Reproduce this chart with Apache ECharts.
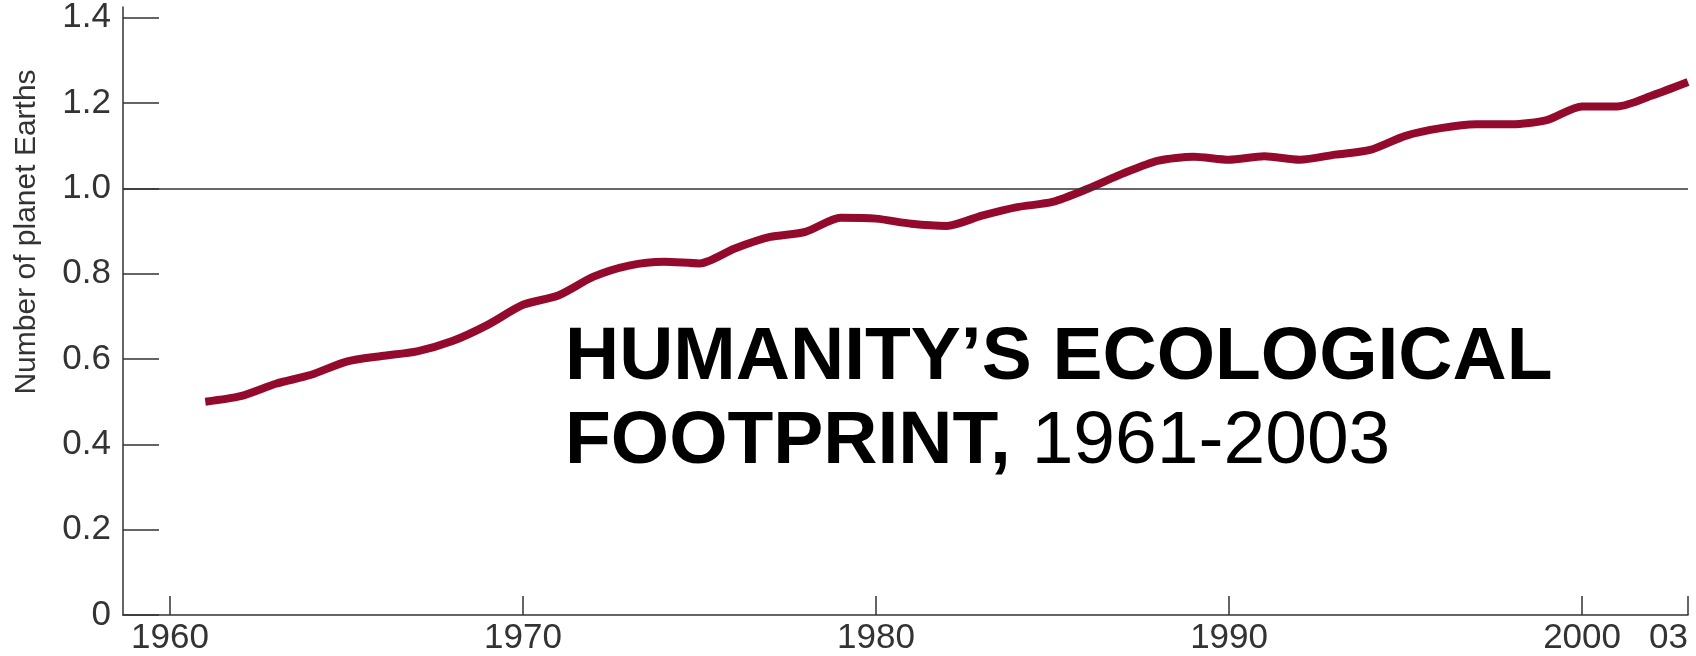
<!DOCTYPE html>
<html>
<head>
<meta charset="utf-8">
<style>
  html, body { margin: 0; padding: 0; background: #fff; }
  #chart { width: 1696px; height: 656px; }
</style>
<script src="https://cdn.jsdelivr.net/npm/echarts@6/dist/echarts.min.js"></script>
</head>
<body>
<div id="chart"></div>
<script>
const years = [];
for (let y = 1961; y <= 2003; y++) years.push(y);

const footprint = [
  0.500, 0.513, 0.542, 0.563, 0.594, 0.607, 0.618, 0.642, 0.680, 0.727,
  0.749, 0.793, 0.819, 0.828, 0.824, 0.859, 0.886, 0.898, 0.931, 0.929,
  0.917, 0.912, 0.936, 0.956, 0.968, 0.999, 1.035, 1.065, 1.074, 1.067,
  1.075, 1.067, 1.079, 1.090, 1.123, 1.141, 1.150, 1.150, 1.160, 1.192,
  1.192, 1.218, 1.249
];

const xTickValues = [1960, 1970, 1980, 1990, 2000, 2003];
const xTickLabels = ['1960', '1970', '1980', '1990', '2000', '03'];
const yTickValues = [0, 0.2, 0.4, 0.6, 0.8, 1.0, 1.2, 1.4];
const yTickLabels = ['0', '0.2', '0.4', '0.6', '0.8', '1.0', '1.2', '1.4'];
const referenceLevel = 1.0;

const yAxisName = 'Number of planet Earths';
const titleBold1 = 'HUMANITY\u2019S ECOLOGICAL';
const titleBold2 = 'FOOTPRINT,';
const titleNormal2 = ' 1961-2003';

const font = '"Liberation Sans", Arial, Helvetica, sans-serif';
const axisColor = '#333';

const chart = echarts.init(document.getElementById('chart'), null, { renderer: 'canvas' });

chart.setOption({
  animation: false,
  backgroundColor: '#ffffff',
  grid: { left: 123, right: 8, top: 7, bottom: 38, containLabel: false },
  xAxis: {
    type: 'value',
    min: 1958.67,
    max: 2003,
    axisLine: { show: true, lineStyle: { color: axisColor, width: 1.5 } },
    axisTick: {
      show: true, inside: true, length: 19,
      customValues: xTickValues,
      lineStyle: { color: axisColor, width: 1.5 }
    },
    axisLabel: {
      show: true,
      customValues: xTickValues,
      formatter: v => {
        const i = xTickValues.indexOf(Math.round(v));
        return i >= 0 ? xTickLabels[i] : '';
      },
      fontFamily: font, fontSize: 35, color: axisColor, margin: 6,
      alignMaxLabel: 'right'
    },
    splitLine: { show: false }
  },
  yAxis: {
    type: 'value',
    min: 0,
    max: 1.425,
    axisLine: { show: true, lineStyle: { color: axisColor, width: 1.5 } },
    axisTick: {
      show: true, inside: true, length: 36,
      customValues: yTickValues,
      lineStyle: { color: axisColor, width: 1.5 }
    },
    axisLabel: {
      show: true,
      customValues: yTickValues,
      formatter: v => {
        let idx = -1;
        yTickValues.forEach((t, i) => { if (Math.abs(t - v) < 1e-6) idx = i; });
        return idx >= 0 ? yTickLabels[idx] : '';
      },
      fontFamily: font, fontSize: 35, color: axisColor, margin: 12
    },
    splitLine: { show: false }
  },
  graphic: [
    {
      type: 'text',
      x: 27, y: 232,
      rotation: Math.PI / 2,
      style: {
        text: yAxisName,
        fontFamily: font, fontSize: 30, fill: axisColor,
        align: 'center', verticalAlign: 'middle'
      },
      silent: true
    },
    {
      type: 'text',
      x: 565, y: 316,
      style: {
        text: '{b|' + titleBold1 + '}\n{b|' + titleBold2 + '}{n|' + titleNormal2 + '}',
        align: 'left', verticalAlign: 'top',
        rich: {
          b: { fontFamily: font, fontSize: 75, fontWeight: 'bold', fill: '#000', lineHeight: 84 },
          n: { fontFamily: font, fontSize: 75, fontWeight: 'normal', fill: '#000', lineHeight: 84 }
        }
      },
      silent: true,
      z: 100
    }
  ],
  series: [
    {
      type: 'line',
      data: years.map((y, i) => [y, footprint[i]]),
      showSymbol: false,
      smooth: 0.25,
      lineStyle: { color: '#930a2d', width: 8, cap: 'butt', join: 'round' },
      markLine: {
        silent: true,
        symbol: ['none', 'none'],
        label: { show: false },
        lineStyle: { color: axisColor, width: 1.5, type: 'solid' },
        data: [{ yAxis: referenceLevel }]
      },
      z: 3
    }
  ]
});
</script>
</body>
</html>
